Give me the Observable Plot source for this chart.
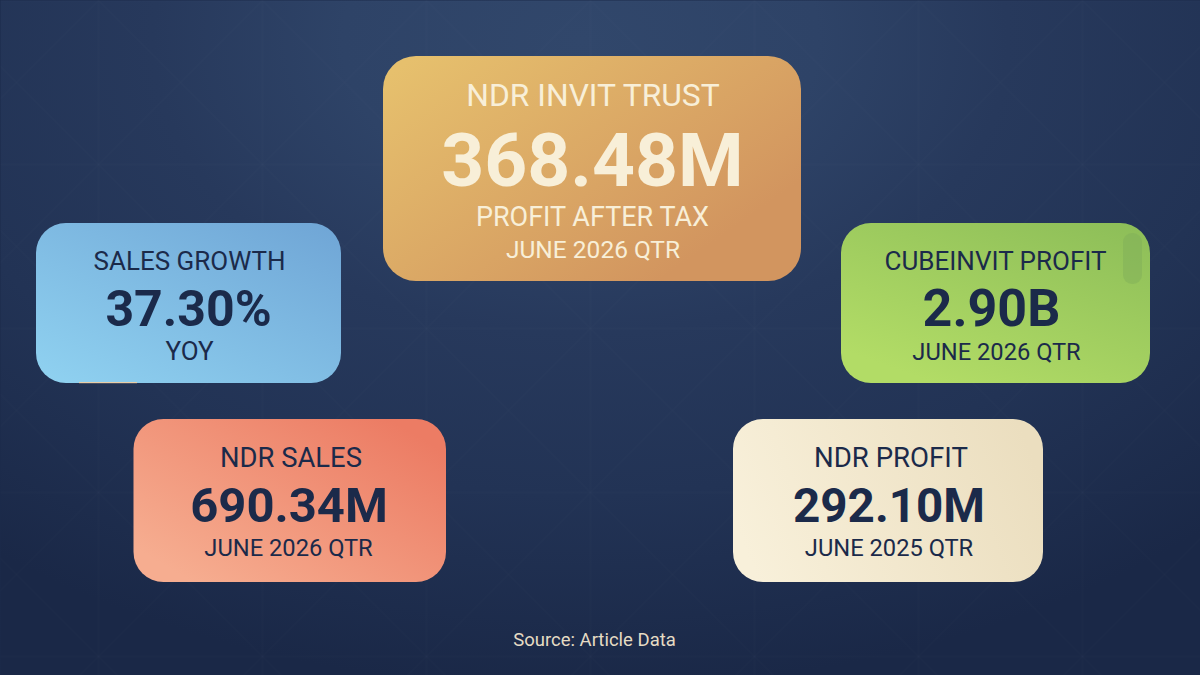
<!DOCTYPE html>
<html>
<head>
<meta charset="utf-8">
<script src="https://cdn.jsdelivr.net/npm/d3@7"></script>
<script src="https://cdn.jsdelivr.net/npm/@observablehq/plot@0.6"></script>
<style>
  html, body { margin: 0; padding: 0; background: #1b2a4a; }
  svg { display: block; }
</style>
</head>
<body>
<div id="chart"></div>
<script>
// ---- content ----
const titles = ["NDR INVIT TRUST", "SALES GROWTH", "CUBEINVIT PROFIT", "NDR SALES", "NDR PROFIT"];
const values = ["368.48M", "37.30%", "2.90B", "690.34M", "292.10M"];
const notes = ["PROFIT AFTER TAX", "YOY", "JUNE 2026 QTR", "JUNE 2026 QTR", "JUNE 2025 QTR"];
const extraNote = "JUNE 2026 QTR";
const source = "Source: Article Data";

// ---- layout (page pixels) ----
const left = [383, 36, 841, 133.5, 733];
const right = [801, 341, 1150, 446, 1043];
const top_ = [56, 223, 223, 419, 419];
const bottom = [281, 383, 383, 582, 582];
const radii = [33, 30, 30, 30, 30];
const titleX = [592.5, 189, 995, 290.5, 890.5];
const valueX = [592, 188, 991, 288.5, 888.5];
const noteX = [592, 189, 996, 288, 888.5];
const titleY = [105.5, 269, 269, 466, 466];
const valueY = [185.5, 325, 325, 521.5, 521.5];
const noteY = [225, 359, 359, 555.5, 555.5];
const titleSize = [31.8, 26, 26, 27.4, 27.6];
const valueSize = [75, 50, 52, 49, 47.6];
const noteSize = [27, 26, 23.7, 23.7, 23.7];
const inks = ["#f8efd8", "#1b2a4a", "#1b2a4a", "#1b2a4a", "#1b2a4a"];
const gradients = [
  {id: "g0", x1: "0%", y1: "10%", x2: "85%", y2: "75%", from: "#e6c06d", to: "#d2955f"},
  {id: "g1", x1: "5%", y1: "100%", x2: "95%", y2: "0%", from: "#8fd1f0", to: "#70a6d6"},
  {id: "g2", x1: "30%", y1: "100%", x2: "100%", y2: "0%", from: "#b2dc66", to: "#8cbd58"},
  {id: "g3", x1: "10%", y1: "90%", x2: "95%", y2: "15%", from: "#f6ad90", to: "#ec7c64"},
  {id: "g4", x1: "0%", y1: "60%", x2: "100%", y2: "40%", from: "#f8f0da", to: "#ebdebf"}
];

const idx = d3.range(titles.length);

function defsMark(index, scales, values, dimensions, context) {
  const svgNS = "http://www.w3.org/2000/svg";
  const make = (name, attrs = {}) => {
    const el = context.document.createElementNS(svgNS, name);
    for (const k in attrs) el.setAttribute(k, attrs[k]);
    return el;
  };
  const g = make("g");
  const defs = make("defs");
  const addStop = (grad, offset, color) => grad.appendChild(make("stop", {offset, "stop-color": color}));
  for (const d of gradients) {
    const grad = make("linearGradient", {id: d.id, x1: d.x1, y1: d.y1, x2: d.x2, y2: d.y2});
    addStop(grad, "0%", d.from);
    addStop(grad, "100%", d.to);
    defs.appendChild(grad);
  }
  const bg = make("radialGradient", {
    id: "bg", gradientUnits: "userSpaceOnUse", cx: 0, cy: 0, r: 1,
    gradientTransform: "translate(580 40) scale(950 650)"
  });
  addStop(bg, "0%", "#31476b");
  addStop(bg, "25%", "#2e4367");
  addStop(bg, "45%", "#27395c");
  addStop(bg, "70%", "#223355");
  addStop(bg, "100%", "#1a2847");
  defs.appendChild(bg);
  // faint diamond lattice seen in the reference's backdrop
  const lattice = make("pattern", {id: "lattice", patternUnits: "userSpaceOnUse", width: 164, height: 164, x: 16, y: -82});
  lattice.appendChild(make("path", {
    d: "M0 0L164 164M164 0L0 164M82 0V164M0 82H164",
    fill: "none", stroke: "#ffffff", "stroke-opacity": 0.015, "stroke-width": 1
  }));
  defs.appendChild(lattice);
  g.appendChild(defs);
  return g;
}

const textOpts = {textAnchor: "middle", lineAnchor: "bottom", text: d => d};

const plot = Plot.plot({
  width: 1200,
  height: 675,
  margin: 0,
  x: {domain: [0, 1200], range: [0, 1200], axis: null},
  y: {domain: [0, 675], range: [0, 675], axis: null},
  style: {fontFamily: "Roboto, sans-serif", background: "transparent"},
  marks: [
    defsMark,
    Plot.frame({fill: "url(#bg)", stroke: "none"}),
    Plot.frame({fill: "url(#lattice)", stroke: "none"}),
    ...idx.map(i => Plot.rect([i], {
      x1: d => left[d], x2: d => right[d], y1: d => top_[d], y2: d => bottom[d],
      rx: radii[i], fill: `url(#${gradients[i].id})`
    })),
    // small stray smudges on the blue and green cards
    Plot.rect([0], {x1: () => 79, x2: () => 137, y1: () => 382, y2: () => 383.2, fill: "#e9cda6"}),
    Plot.rect([0], {x1: () => 1123, x2: () => 1142, y1: () => 233, y2: () => 284, rx: 9, fill: "#7fae58", fillOpacity: 0.45}),
    ...idx.map(i => Plot.text([titles[i]], {
      ...textOpts, x: () => titleX[i], y: () => titleY[i], fontSize: titleSize[i], fill: inks[i]
    })),
    ...idx.map(i => Plot.text([values[i]], {
      ...textOpts, x: () => valueX[i], y: () => valueY[i], fontSize: valueSize[i], fontWeight: 700, fill: inks[i]
    })),
    ...idx.map(i => Plot.text([notes[i]], {
      ...textOpts, x: () => noteX[i], y: () => noteY[i], fontSize: noteSize[i], fill: inks[i]
    })),
    Plot.text([extraNote], {
      ...textOpts, x: () => 592.5, y: () => 257.5, fontSize: 24.5, fill: inks[0]
    }),
    Plot.text([source], {
      ...textOpts, x: () => 594, y: () => 645.5, fontSize: 18.5, fill: "#e6dcc4"
    })
  ]
});
document.getElementById("chart").appendChild(plot);
</script>
</body>
</html>
